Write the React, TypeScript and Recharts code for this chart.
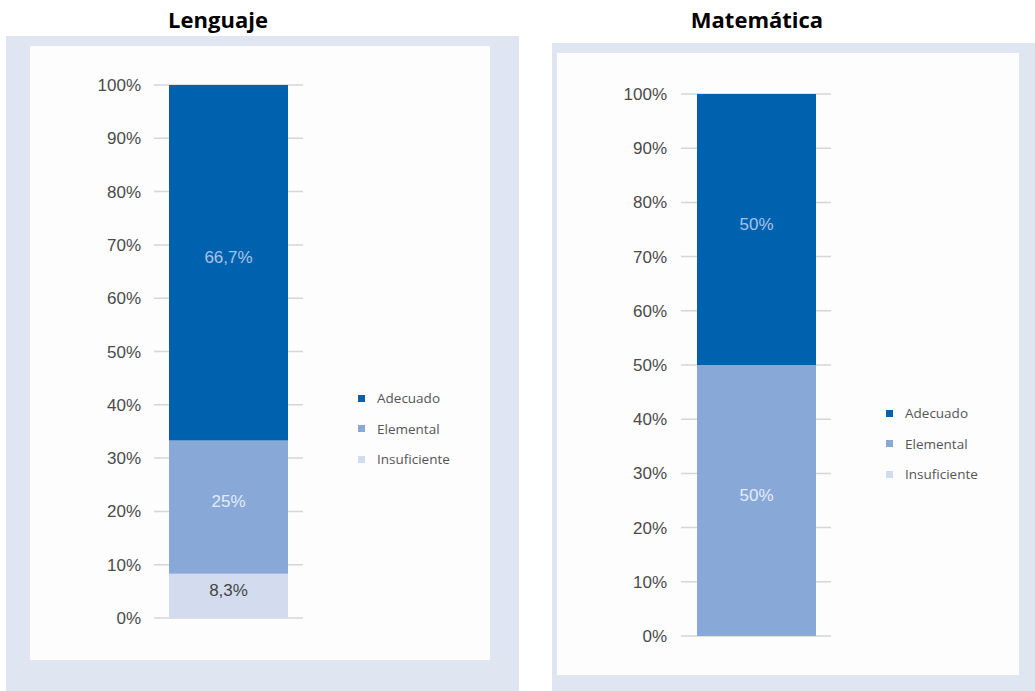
import React from "react";
import { BarChart, Bar, XAxis, YAxis, CartesianGrid, LabelList, Legend } from "recharts";

const levels = ["Insuficiente", "Elemental", "Adecuado"];
const levelColors = ["#D3DCEF", "#88A8D8", "#0062AE"];
const labelColors = ["#444444", "#E4ECF8", "#A9C3E8"];

const lenguajeValues = [8.3, 25, 66.7];
const lenguajeLabels = ["8,3%", "25%", "66,7%"];
const matematicaValues = [0, 50, 50];
const matematicaLabels = ["", "50%", "50%"];

const yTicks = [0, 10, 20, 30, 40, 50, 60, 70, 80, 90, 100];
const yTickLabels = ["0%", "10%", "20%", "30%", "40%", "50%", "60%", "70%", "80%", "90%", "100%"];

const FONT = "'Liberation Sans', Arial, sans-serif";

function buildRow(name: string, values: number[]) {
  const row: Record<string, any> = { name };
  levels.forEach((l, i) => (row[l] = values[i]));
  return row;
}

function LegendContent(props: any) {
  const payload = (props.payload || [])
    .slice()
    .sort((a: any, b: any) => levels.indexOf(b.value) - levels.indexOf(a.value));
  return (
    <div style={{ fontFamily: "'Open Sans', sans-serif", fontSize: 13.5, color: "#555" }}>
      {payload.map((p: any) => (
        <div key={p.value} style={{ height: 30.5, display: "flex", alignItems: "center" }}>
          <span style={{ width: 7, height: 7, background: p.color, display: "inline-block", marginRight: 12 }} />
          <span>{p.value}</span>
        </div>
      ))}
    </div>
  );
}

type PanelProps = {
  values: number[];
  labels: string[];
  width: number;
  height: number;
  margin: { top: number; right: number; bottom: number; left: number };
  tickMargin: number;
  legendLeft: number;
  legendTop: number;
};

function StackPanel(p: PanelProps) {
  const data = [buildRow("x", p.values)];
  return (
    <BarChart width={p.width} height={p.height} data={data} margin={p.margin}>
      <CartesianGrid vertical={false} stroke="#D6D6D6" strokeWidth={1.5} />
      <XAxis dataKey="name" hide />
      <YAxis
        domain={[0, 100]}
        ticks={yTicks}
        interval={0}
        width={60}
        tickLine={false}
        axisLine={false}
        tickSize={0}
        tickMargin={p.tickMargin}
        tickFormatter={(v: number) => yTickLabels[yTicks.indexOf(v)]}
        tick={{ fill: "#4A4A4A", fontSize: 17, fontFamily: FONT }}
      />
      {levels.map((l, i) => (
        <Bar key={l} dataKey={l} stackId="s" fill={levelColors[i]} barSize={119} isAnimationActive={false}>
          <LabelList
            dataKey={l}
            position="center"
            formatter={() => p.labels[i]}
            fill={labelColors[i]}
            fontSize={17}
            fontFamily={FONT}
            dy={-6}
          />
        </Bar>
      ))}
      <Legend
        layout="horizontal"
        verticalAlign="middle"
        content={<LegendContent />}
        wrapperStyle={{ left: p.legendLeft, top: p.legendTop, width: 140, height: 92 }}
      />
    </BarChart>
  );
}

export default function App() {
  return (
    <div style={{ position: "absolute", left: 0, top: 0, width: 1035, height: 691, background: "#FFFFFF", overflow: "hidden" }}>
      <div style={{ position: "absolute", left: 118, top: 4, width: 200, textAlign: "center", fontFamily: "'Open Sans', sans-serif", fontWeight: 700, fontSize: 22, color: "#000" }}>
        Lenguaje
      </div>
      <div style={{ position: "absolute", left: 657, top: 4, width: 200, textAlign: "center", fontFamily: "'Open Sans', sans-serif", fontWeight: 700, fontSize: 22, color: "#000" }}>
        Matemática
      </div>
      <div style={{ position: "absolute", left: 6, top: 36, width: 513, height: 655, background: "#DFE6F2" }} />
      <div style={{ position: "absolute", left: 552, top: 43, width: 483, height: 648, background: "#DFE6F2" }} />
      <div style={{ position: "absolute", left: 30, top: 46, width: 460, height: 614, background: "#FDFDFD" }}>
        <StackPanel
          values={lenguajeValues}
          labels={lenguajeLabels}
          width={460}
          height={614}
          margin={{ top: 39, right: 187, bottom: 42, left: 64 }}
          tickMargin={13}
          legendLeft={328}
          legendTop={337}
        />
      </div>
      <div style={{ position: "absolute", left: 557, top: 53, width: 462, height: 622, background: "#FDFDFD" }}>
        <StackPanel
          values={matematicaValues}
          labels={matematicaLabels}
          width={462}
          height={622}
          margin={{ top: 41, right: 188, bottom: 39, left: 64 }}
          tickMargin={14}
          legendLeft={329}
          legendTop={345}
        />
      </div>
    </div>
  );
}
